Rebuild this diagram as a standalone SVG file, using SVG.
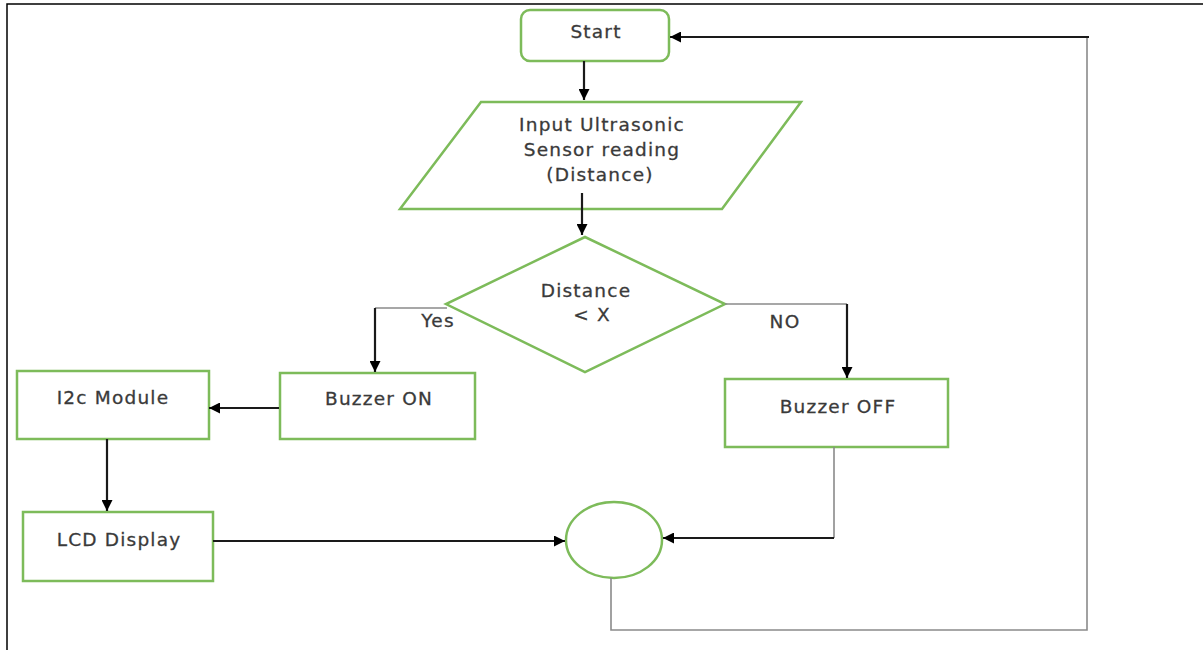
<svg xmlns="http://www.w3.org/2000/svg" width="1203" height="650" viewBox="0 0 1203 650">
<defs>
<marker id="ahb" viewBox="0 0 10 10" refX="10" refY="5" markerWidth="11" markerHeight="11" orient="auto" markerUnits="userSpaceOnUse">
<path d="M0,0 L10,5 L0,10 z" fill="#000"/>
</marker>
<style>
.n{fill:#fff;stroke:#7dbb5a;stroke-width:2.5}
.t{font-family:"DejaVu Sans","Open Sans",sans-serif;font-size:18.5px;letter-spacing:1.2px;fill:#3a3a3a;text-anchor:middle;stroke:#3a3a3a;stroke-width:0.3}
.a{fill:none;stroke:#1a1a1a;stroke-width:2.2}
.g{fill:none;stroke:#8a8a8a;stroke-width:1.6}
</style>
</defs>
<rect width="1203" height="650" fill="#fff"/>
<path d="M7,650 L7,4 L1203,4" fill="none" stroke="#000" stroke-width="1.5"/>
<g id="start"><rect class="n" x="521" y="10" width="148" height="51" rx="9"/><text class="t" x="596" y="38">Start</text></g>
<g id="input"><polygon class="n" points="481,102 801,102 722,209 400,209"/><text class="t" x="602" y="131">Input Ultrasonic</text><text class="t" x="602" y="156">Sensor reading</text><text class="t" x="600" y="181">(Distance)</text></g>
<g id="decision"><polygon class="n" points="585,237 725,304 585,372 446,304"/><text class="t" x="586" y="297">Distance</text><text class="t" x="592" y="321">&lt; X</text></g>
<g id="buzzer-on"><rect class="n" x="280" y="373" width="195" height="66"/><text class="t" x="379" y="405">Buzzer ON</text></g>
<g id="i2c"><rect class="n" x="17" y="371" width="192" height="68"/><text class="t" x="113" y="404">I2c Module</text></g>
<g id="lcd"><rect class="n" x="23" y="512" width="190" height="69"/><text class="t" x="119" y="546">LCD Display</text></g>
<g id="buzzer-off"><rect class="n" x="725" y="379" width="223" height="68"/><text class="t" x="838" y="413">Buzzer OFF</text></g>
<g id="join"><ellipse class="n" cx="614" cy="540" rx="48" ry="38"/></g>
<g id="labels"><text class="t" x="438" y="327">Yes</text><text class="t" x="785" y="328">NO</text></g>
<g id="connectors">
<path class="a" d="M584,61 L584,100" marker-end="url(#ahb)"/>
<path class="a" d="M582,193 L582,235" marker-end="url(#ahb)"/>
<path class="g" d="M447,308 L375,308"/>
<path class="a" d="M375,308 L375,372" marker-end="url(#ahb)"/>
<path class="g" d="M725,304 L847,304"/>
<path class="a" d="M847,304 L847,378" marker-end="url(#ahb)"/>
<path class="a" d="M279,408 L209,408" marker-end="url(#ahb)"/>
<path class="a" d="M107,439 L107,511" marker-end="url(#ahb)"/>
<path class="a" d="M213,541 L565,541" marker-end="url(#ahb)"/>
<path class="g" d="M834,447 L834,538"/>
<path class="a" d="M834,538 L663,538" marker-end="url(#ahb)"/>
<path class="g" d="M611,578 L611,630 L1087,630 L1087,37"/>
<path class="a" d="M1089,37 L670,37" marker-end="url(#ahb)"/>
</g>
</svg>
